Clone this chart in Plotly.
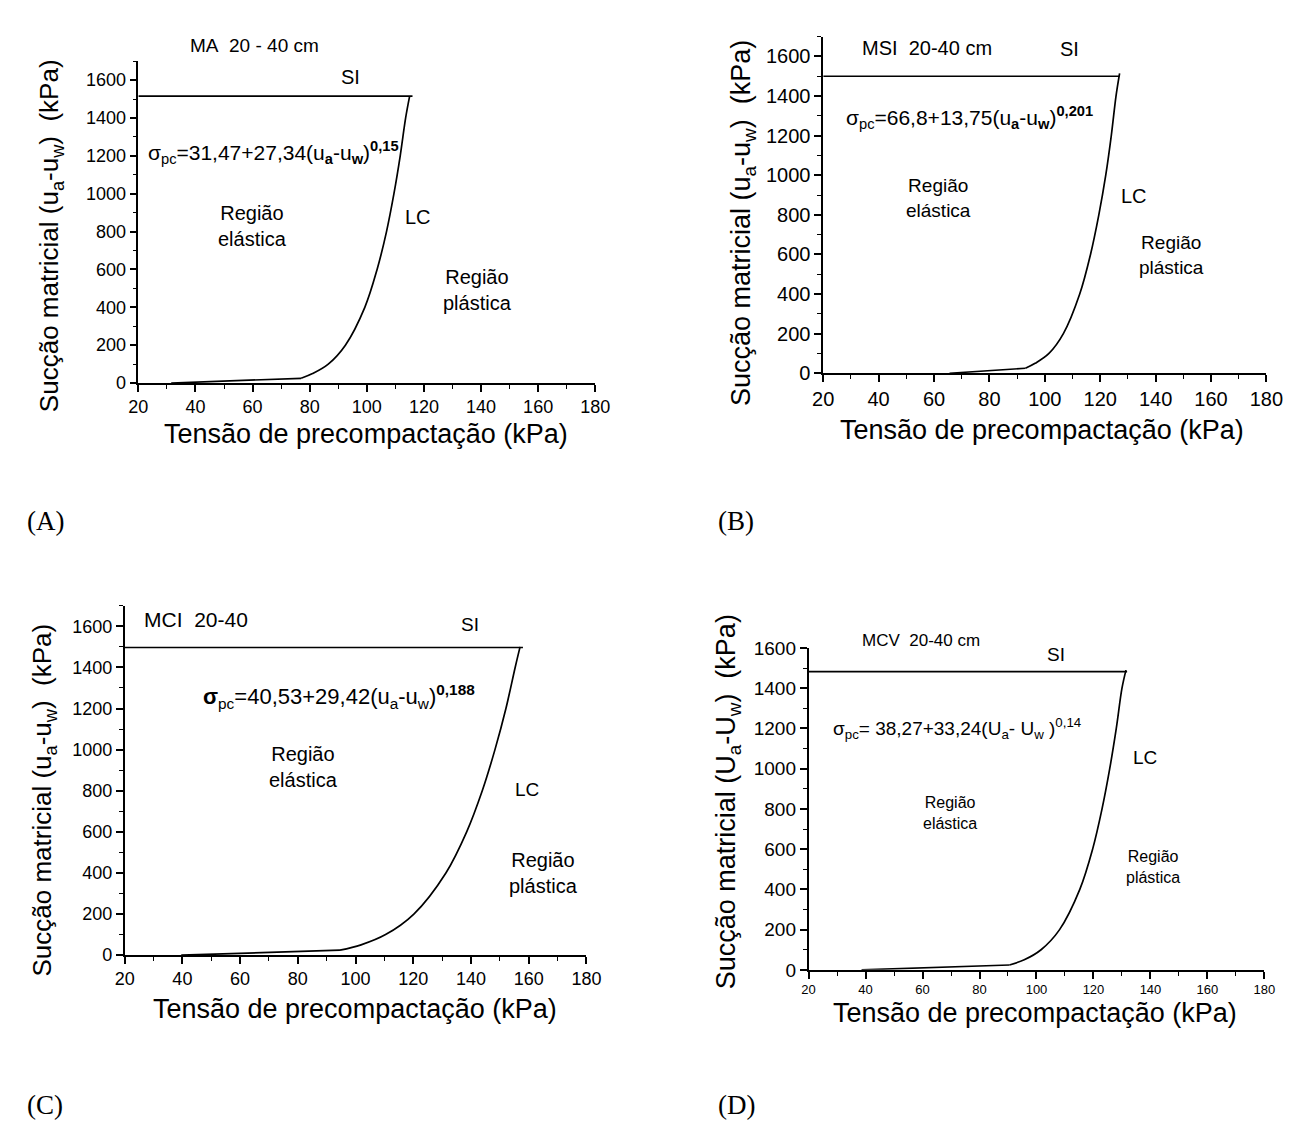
import plotly.graph_objects as go

W, H = 1294, 1122
FONT = "Arial, Liberation Sans, sans-serif"
SERIF = "Times New Roman, Liberation Serif, serif"

# ---------------- data ----------------
x_ticks = [20, 40, 60, 80, 100, 120, 140, 160, 180]
y_ticks = [0, 200, 400, 600, 800, 1000, 1200, 1400, 1600]

# (A) MA 20-40 cm
a_lin_stress = [31.5, 77.0]
a_lin_suction = [0, 25]
a_lc_stress = [77.0, 81.0, 86.5, 92.5, 99.3, 103.6, 106.9, 109.5, 111.7, 113.6, 115.0]
a_lc_suction = [25, 50, 100, 200, 400, 600, 800, 1000, 1200, 1400, 1515]
a_si_stress = [20, 116]
a_si_suction = [1515, 1515]

# (B) MSI 20-40 cm
b_lin_stress = [65.6, 93.0]
b_lin_suction = [0, 25]
b_lc_stress = [93.0, 96.5, 101.5, 106.7, 112.6, 116.5, 119.5, 122.0, 124.0, 125.7, 127.0]
b_lc_suction = [25, 50, 100, 200, 400, 600, 800, 1000, 1200, 1400, 1515]
b_si_stress = [20, 126.8]
b_si_suction = [1500, 1500]

# (C) MCI 20-40
c_lin_stress = [39.6, 94.6]
c_lin_suction = [0, 24]
c_lc_stress = [94.6, 101.9, 110.4, 120.2, 131.3, 138.5, 143.9, 148.3, 152.1, 155.3, 157.0]
c_lc_suction = [24, 50, 100, 200, 400, 600, 800, 1000, 1200, 1400, 1500]
c_si_stress = [20, 158]
c_si_suction = [1497, 1497]

# (D) MCV 20-40 cm
d_lin_stress = [38.6, 90.5]
d_lin_suction = [0, 24]
d_lc_stress = [90.5, 95.7, 101.6, 108.1, 115.2, 119.7, 123.0, 125.7, 128.0, 130.0, 131.4]
d_lc_suction = [24, 50, 100, 200, 400, 600, 800, 1000, 1200, 1400, 1490]
d_si_stress = [20, 131.8]
d_si_suction = [1482, 1482]

# ---------------- layout geometry (pixels) ----------------
geom = {
    "A": dict(xl=122, xr=589, yb=372, yt=44, ymax=1700, tick=18, xtick=18),
    "B": dict(xl=822, xr=1275, yb=362, yt=19, ymax=1700, tick=20, xtick=20),
    "C": dict(xl=108, xr=580, yb=955, yt=599, ymax=1700, tick=18, xtick=18),
    "D": dict(xl=807, xr=1273, yb=970, yt=642, ymax=1600, tick=19, xtick=13),
}

fig = go.Figure()

series = [
    ("A", "x", "y", a_lin_stress, a_lin_suction, a_lc_stress, a_lc_suction, a_si_stress, a_si_suction),
    ("B", "x2", "y2", b_lin_stress, b_lin_suction, b_lc_stress, b_lc_suction, b_si_stress, b_si_suction),
    ("C", "x3", "y3", c_lin_stress, c_lin_suction, c_lc_stress, c_lc_suction, c_si_stress, c_si_suction),
    ("D", "x4", "y4", d_lin_stress, d_lin_suction, d_lc_stress, d_lc_suction, d_si_stress, d_si_suction),
]
for name, xa, ya, ls, lsu, cs, csu, ss, ssu in series:
    fig.add_trace(go.Scatter(x=ls, y=lsu, xaxis=xa, yaxis=ya, mode="lines",
                             line=dict(color="black", width=1.7), showlegend=False, cliponaxis=False))
    fig.add_trace(go.Scatter(x=cs, y=csu, xaxis=xa, yaxis=ya, mode="lines",
                             line=dict(color="black", width=1.7, shape="spline", smoothing=1.0),
                             showlegend=False, cliponaxis=False))
    fig.add_trace(go.Scatter(x=ss, y=ssu, xaxis=xa, yaxis=ya, mode="lines",
                             line=dict(color="black", width=1.7), showlegend=False, cliponaxis=False))


def xaxis(g, anchor):
    return dict(domain=[g["xl"] / W, g["xr"] / W], range=[20, 180], tickvals=x_ticks,
                showline=True, linecolor="black", linewidth=1.5, ticks="outside", ticklen=7,
                tickwidth=1.5, tickcolor="black",
                minor=dict(ticks="outside", ticklen=4, tickwidth=1.2, dtick=10, tick0=20, tickcolor="black"),
                showgrid=False, zeroline=False, anchor=anchor,
                tickfont=dict(family=FONT, size=g["xtick"], color="black"))


def yaxis(g, anchor):
    return dict(domain=[1 - g["yb"] / H, 1 - g["yt"] / H], range=[0, g["ymax"]], tickvals=y_ticks,
                showline=True, linecolor="black", linewidth=1.5, ticks="outside", ticklen=7,
                tickwidth=1.5, tickcolor="black",
                minor=dict(ticks="outside", ticklen=4, tickwidth=1.2, dtick=100, tick0=0, tickcolor="black"),
                showgrid=False, zeroline=False, anchor=anchor,
                tickfont=dict(family=FONT, size=g["tick"], color="black"))


fig.update_layout(
    width=W, height=H, margin=dict(l=0, r=0, t=0, b=0),
    paper_bgcolor="white", plot_bgcolor="white", showlegend=False,
    xaxis=xaxis(geom["A"], "y"), yaxis=yaxis(geom["A"], "x"),
    xaxis2=xaxis(geom["B"], "y2"), yaxis2=yaxis(geom["B"], "x2"),
    xaxis3=xaxis(geom["C"], "y3"), yaxis3=yaxis(geom["C"], "x3"),
    xaxis4=xaxis(geom["D"], "y4"), yaxis4=yaxis(geom["D"], "x4"),
)

ann = []


def data_text(xa, ya, x, y, text, size, xanchor="center"):
    ann.append(dict(xref=xa, yref=ya, x=x, y=y, text=text, showarrow=False, xanchor=xanchor,
                    yanchor="middle", font=dict(family=FONT, size=size, color="black")))


def top_text(xa, x, py, text, size):
    # x in data units, y in pixels (text sits above the axis range)
    ann.append(dict(xref=xa, yref="paper", x=x, y=1 - py / H, text=text, showarrow=False,
                    xanchor="center", yanchor="middle", font=dict(family=FONT, size=size, color="black")))


def paper_text(px, py, text, size, family=FONT, angle=0, xanchor="center"):
    ann.append(dict(xref="paper", yref="paper", x=px / W, y=1 - py / H, text=text, showarrow=False,
                    xanchor=xanchor, yanchor="middle", textangle=angle,
                    font=dict(family=family, size=size, color="black")))


# (A)
top_text("x", 60.7, 28, "MA&nbsp; 20 - 40 cm", 19)
data_text("x", "y", 94.4, 1617, "SI", 20)
data_text("x", "y", 22.8, 1220,
          "σ<sub>pc</sub>=31,47+27,34(u<sub><b>a</b></sub>-u<sub><b>w</b></sub>)<sup><b>0,15</b></sup>",
          21, "left")
data_text("x", "y", 60.0, 828, "Região<br>elástica", 20)
data_text("x", "y", 118.0, 875, "LC", 20)
data_text("x", "y", 138.8, 491, "Região<br>plástica", 20)

# (B)
data_text("x2", "y2", 57.5, 1645, "MSI&nbsp; 20-40 cm", 20)
data_text("x2", "y2", 109.0, 1636, "SI", 20)
data_text("x2", "y2", 27.4, 1290,
          "σ<sub>pc</sub>=66,8+13,75(u<sub><b>a</b></sub>-u<sub><b>w</b></sub>)<sup><b>0,201</b></sup>",
          21, "left")
data_text("x2", "y2", 61.7, 884, "Região<br>elástica", 19)
data_text("x2", "y2", 132.2, 893, "LC", 20)
data_text("x2", "y2", 145.7, 595, "Região<br>plástica", 19)

# (C)
data_text("x3", "y3", 44.8, 1632, "MCI&nbsp; 20-40", 21)
data_text("x3", "y3", 139.5, 1608, "SI", 19)
data_text("x3", "y3", 46.6, 1258,
          "<b>σ</b><sub>pc</sub>=40,53+29,42(u<sub>a</sub>-u<sub>w</sub>)<sup><b>0,188</b></sup>",
          22, "left")
data_text("x3", "y3", 82.0, 916, "Região<br>elástica", 20)
data_text("x3", "y3", 159.3, 804, "LC", 19)
data_text("x3", "y3", 165.0, 398, "Região<br>plástica", 20)

# (D)
top_text("x4", 59.3, 634, "MCV&nbsp; 20-40 cm", 17)
data_text("x4", "y4", 106.9, 1567, "SI", 19)
data_text("x4", "y4", 27.9, 1201,
          "σ<sub>pc</sub>= 38,27+33,24(U<sub>a</sub>- U<sub>w</sub> )<sup>0,14</sup>",
          19, "left")
data_text("x4", "y4", 69.5, 778, "Região<br>elástica", 16)
data_text("x4", "y4", 138.0, 1058, "LC", 19)
data_text("x4", "y4", 140.9, 509, "Região<br>plástica", 16)

# axis titles
xt = "Tensão de precompactação (kPa)"
paper_text(355, 424, xt, 27)
paper_text(1046, 420, xt, 27)
paper_text(343, 1010, xt, 27)
paper_text(1038, 1014, xt, 27)

yt_lower = "Sucção matricial (u<sub>a</sub>-u<sub>w</sub>)&nbsp; (kPa)"
yt_upper = "Sucção matricial (U<sub>a</sub>-U<sub>w</sub>)&nbsp; (kPa)"
paper_text(33, 222, yt_lower, 26, angle=-90)
paper_text(740, 209, yt_lower, 27, angle=-90)
paper_text(25, 797, yt_lower, 26, angle=-90)
paper_text(725, 799, yt_upper, 27, angle=-90)

# panel labels
paper_text(6, 513, "(A)", 27, SERIF, xanchor="left")
paper_text(712, 513, "(B)", 27, SERIF, xanchor="left")
paper_text(6, 1108, "(C)", 27, SERIF, xanchor="left")
paper_text(712, 1108, "(D)", 27, SERIF, xanchor="left")

fig.update_layout(annotations=ann)

fig.write_html("out.html")
